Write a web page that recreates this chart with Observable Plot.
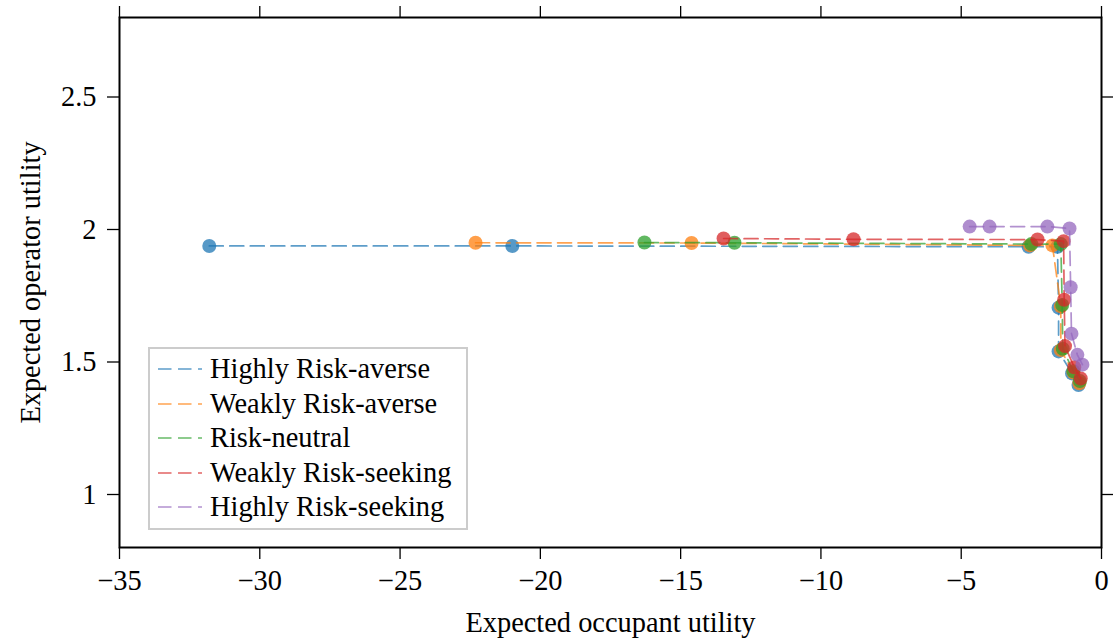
<!DOCTYPE html>
<html>
<head>
<meta charset="utf-8">
<script src="https://cdn.jsdelivr.net/npm/d3@7"></script>
<script src="https://cdn.jsdelivr.net/npm/@observablehq/plot@0.6"></script>
<style>
  html, body { margin: 0; padding: 0; background: #fff; }
  #chart { position: relative; width: 1113px; height: 641px; font-family: "Liberation Serif", "Times New Roman", serif; }
  #chart svg.plot { position: absolute; left: 0; top: 0; }
  #legend {
    position: absolute; left: 148px; top: 347px; width: 320px; height: 183px;
    box-sizing: border-box; border: 2px solid #cccccc; background: #fff;
  }
  .row { position: absolute; left: 0; height: 34px; display: flex; align-items: center; font-size: 28.4px; color: #000; white-space: nowrap; }
  .row svg { margin-left: 8px; margin-right: 8px; }
</style>
</head>
<body>
<div id="chart"></div>
<script>
// Risk attitudes and their colours
const seriesNames = ["Highly Risk-averse", "Weakly Risk-averse", "Risk-neutral", "Weakly Risk-seeking", "Highly Risk-seeking"];
const seriesColors = ["#1f77b4", "#ff7f0e", "#2ca02c", "#d62728", "#9467bd"];

// Expected occupant utility (x) and expected operator utility (y) per attitude
const highlyAverseX = [-31.8, -21.0, -2.6, -1.57, -1.53, -1.53, -1.05, -0.82];
const highlyAverseY = [1.938, 1.938, 1.935, 1.935, 1.705, 1.54, 1.457, 1.413];
const weaklyAverseX = [-22.31, -14.61, -2.55, -1.75, -1.45, -1.45, -1.0, -0.79];
const weaklyAverseY = [1.950, 1.949, 1.940, 1.940, 1.71, 1.545, 1.46, 1.42];
const neutralX = [-16.29, -13.08, -2.5, -1.45, -1.40, -1.38, -1.0, -0.77];
const neutralY = [1.951, 1.950, 1.945, 1.945, 1.715, 1.55, 1.465, 1.428];
const weaklySeekingX = [-13.47, -8.84, -2.28, -1.35, -1.33, -1.30, -0.97, -0.74];
const weaklySeekingY = [1.966, 1.963, 1.962, 1.956, 1.735, 1.56, 1.48, 1.438];
const highlySeekingX = [-4.70, -3.99, -1.93, -1.14, -1.10, -1.07, -0.86, -0.68];
const highlySeekingY = [2.011, 2.011, 2.011, 2.004, 1.782, 1.607, 1.527, 1.49];

const xTicks = [-35, -30, -25, -20, -15, -10, -5, 0];
const yTicks = [1, 1.5, 2, 2.5];

const seriesX = [highlyAverseX, weaklyAverseX, neutralX, weaklySeekingX, highlySeekingX];
const seriesY = [highlyAverseY, weaklyAverseY, neutralY, weaklySeekingY, highlySeekingY];

const rows = seriesNames.flatMap((name, i) =>
  seriesX[i].map((x, j) => ({series: name, x, y: seriesY[i][j]}))
);

const fmtX = d => (d < 0 ? "\u2212" + Math.abs(d) : String(d));
const fmtY = d => String(d);
const fontSize = 28.4;

// each attitude draws its dashed line and then its dots, in series order
const seriesMarks = seriesNames.flatMap(name => {
  const data = rows.filter(r => r.series === name);
  return [
    Plot.line(data, {x: "x", y: "y", stroke: "series", strokeWidth: 1.7, strokeOpacity: 0.72, strokeDasharray: "14,6.5"}),
    Plot.dot(data, {x: "x", y: "y", fill: "series", r: 7, fillOpacity: 0.75, stroke: "none"})
  ];
});

const chart = Plot.plot({
  width: 1113,
  height: 641,
  marginLeft: 119,
  marginRight: 12,
  marginTop: 17,
  marginBottom: 94,
  x: {domain: [-35, 0]},
  y: {domain: [0.8, 2.8]},
  color: {domain: seriesNames, range: seriesColors},
  style: {fontFamily: "'Liberation Serif', 'Times New Roman', serif", fontSize: fontSize + "px", background: "white", color: "black"},
  marks: [
    ...seriesMarks,
    Plot.frame({stroke: "black", strokeWidth: 2}),
    Plot.axisX({ticks: xTicks, tickSize: 12, tickPadding: 10, tickFormat: fmtX, label: null, fontSize, strokeWidth: 1.3}),
    Plot.axisX({anchor: "top", ticks: xTicks, tickSize: 12, tickFormat: () => "", label: null, strokeWidth: 1.3}),
    Plot.axisY({ticks: yTicks, tickSize: 12, tickPadding: 11, tickFormat: fmtY, label: null, fontSize, strokeWidth: 1.3}),
    Plot.axisY({anchor: "right", ticks: yTicks, tickSize: 12, tickFormat: () => "", label: null, strokeWidth: 1.3}),
    Plot.text(["Expected occupant utility"], {text: d => d, frameAnchor: "bottom", dy: 75, fontSize, textAnchor: "middle", lineAnchor: "middle"}),
    Plot.text(["Expected operator utility"], {text: d => d, frameAnchor: "left", dx: -89, rotate: -90, fontSize, textAnchor: "middle", lineAnchor: "middle"})
  ]
});
chart.classList.add("plot");

const root = document.getElementById("chart");
root.appendChild(chart);

// legend box inside the plotting area
const legend = document.createElement("div");
legend.id = "legend";
seriesNames.forEach((name, i) => {
  const row = document.createElement("div");
  row.className = "row";
  row.style.top = (3 + i * 34.6) + "px";
  const sw = d3.create("svg").attr("width", 44).attr("height", 10);
  sw.append("line")
    .attr("x1", 0).attr("x2", 44).attr("y1", 5).attr("y2", 5)
    .attr("stroke", seriesColors[i]).attr("stroke-width", 1.6)
    .attr("stroke-opacity", 0.72).attr("stroke-dasharray", "13.5,6.5");
  row.appendChild(sw.node());
  const label = document.createElement("span");
  label.textContent = name;
  row.appendChild(label);
  legend.appendChild(row);
});
root.appendChild(legend);
</script>
</body>
</html>
